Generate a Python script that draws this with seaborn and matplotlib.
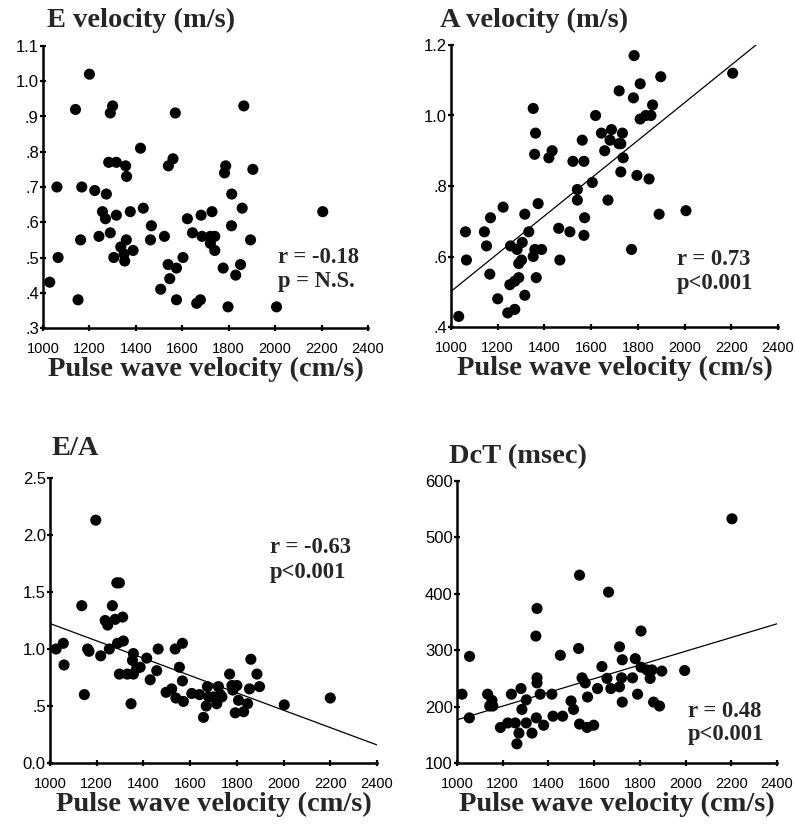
import numpy as np
import pandas as pd
import seaborn as sns
import matplotlib
matplotlib.use("Agg")
import matplotlib.pyplot as plt
from matplotlib import font_manager as fm

# values
pwv_e = [1200, 1140, 1300, 1290, 1570, 1865, 1420, 1560, 1540, 1283, 1316, 1356, 1360, 1787, 1782, 1904,
         1060, 1167, 1223, 1273, 1813, 1432, 1858, 2205, 1256, 1269, 1316, 1376, 1728, 1681, 1622, 1467,
         1812, 1644, 1290, 1241, 1162, 1463, 1359, 1523, 1685, 1721, 1740, 1721, 1740, 1894, 1335, 1388,
         1349, 1305, 1352, 1065, 1603, 1539, 1575, 1546, 1776, 1851, 1830, 1029, 1507, 1151, 1575, 1662,
         1678, 1797, 2006]
e_vel = [1.02, 0.92, 0.93, 0.91, 0.91, 0.93, 0.81, 0.78, 0.76, 0.77, 0.77, 0.76, 0.73, 0.76, 0.74, 0.75,
         0.70, 0.70, 0.69, 0.68, 0.68, 0.64, 0.64, 0.63, 0.63, 0.61, 0.62, 0.63, 0.63, 0.62, 0.61, 0.59,
         0.59, 0.57, 0.57, 0.56, 0.55, 0.55, 0.55, 0.56, 0.56, 0.56, 0.56, 0.54, 0.52, 0.55, 0.53, 0.52,
         0.51, 0.50, 0.49, 0.50, 0.50, 0.48, 0.47, 0.44, 0.47, 0.48, 0.45, 0.43, 0.41, 0.38, 0.38, 0.37,
         0.38, 0.36, 0.36]

pwv_a = [1033, 1062, 1066, 1143, 1152, 1169, 1166, 1200, 1223, 1255, 1243, 1273, 1252, 1273, 1290, 1283,
         1305, 1290, 1302, 1316, 1316, 1333, 1352, 1359, 1388, 1365, 1373, 1352, 1362, 1358, 1419, 1433,
         1461, 1466, 1509, 1522, 1541, 1541, 1569, 1562, 1572, 1569, 1605, 1619, 1644, 1658, 1672, 1681,
         1687, 1719, 1727, 1734, 1737, 1727, 1720, 1773, 1784, 1781, 1796, 1810, 1810, 1834, 1856, 1863,
         1848, 1891, 1898, 2006, 2206]
a_vel = [0.43, 0.67, 0.59, 0.67, 0.63, 0.71, 0.55, 0.48, 0.74, 0.63, 0.44, 0.45, 0.52, 0.53, 0.54, 0.62,
         0.64, 0.58, 0.59, 0.49, 0.72, 0.67, 0.60, 0.62, 0.62, 0.54, 0.75, 1.02, 0.95, 0.89, 0.88, 0.90,
         0.68, 0.59, 0.67, 0.87, 0.79, 0.76, 0.87, 0.93, 0.71, 0.66, 0.81, 1.00, 0.95, 0.90, 0.76, 0.93,
         0.96, 0.92, 0.92, 0.95, 0.88, 0.84, 1.07, 0.62, 1.17, 1.05, 0.83, 1.09, 0.99, 1.00, 1.00, 1.03,
         0.82, 0.72, 1.11, 0.73, 1.12]

pwv_ea = [1026, 1057, 1060, 1136, 1147, 1161, 1167, 1196, 1217, 1236, 1247, 1267, 1254, 1279, 1286, 1297,
          1311, 1289, 1314, 1297, 1331, 1357, 1357, 1353, 1371, 1386, 1347, 1414, 1429, 1463, 1457, 1497,
          1521, 1539, 1536, 1567, 1554, 1567, 1571, 1607, 1640, 1657, 1669, 1674, 1679, 1700, 1714, 1721,
          1729, 1736, 1769, 1779, 1783, 1800, 1793, 1807, 1829, 1846, 1854, 1860, 1886, 1897, 2003, 2200]
ea = [1.00, 1.05, 0.86, 1.38, 0.60, 1.00, 0.98, 2.13, 0.94, 1.25, 1.21, 1.38, 1.00, 1.26, 1.58, 1.58,
      1.28, 1.05, 1.07, 0.78, 0.78, 0.96, 0.78, 0.90, 0.83, 0.84, 0.52, 0.92, 0.73, 1.00, 0.81, 0.62,
      0.65, 0.57, 1.00, 1.05, 0.84, 0.72, 0.54, 0.61, 0.60, 0.40, 0.50, 0.67, 0.58, 0.58, 0.52, 0.67,
      0.60, 0.58, 0.78, 0.68, 0.64, 0.68, 0.44, 0.55, 0.45, 0.52, 0.65, 0.91, 0.78, 0.67, 0.51, 0.57]

pwv_dct = [1022, 1054, 1055, 1134, 1153, 1143, 1157, 1190, 1222, 1238, 1255, 1262, 1271, 1280, 1284, 1303,
           1303, 1328, 1345, 1350, 1350, 1350, 1347, 1364, 1379, 1415, 1420, 1452, 1462, 1499, 1510, 1532,
           1536, 1536, 1547, 1561, 1569, 1571, 1598, 1615, 1634, 1656, 1663, 1673, 1711, 1711, 1723, 1723,
           1720, 1768, 1780, 1790, 1805, 1805, 1831, 1853, 1845, 1860, 1886, 1896, 1996, 2203]
dct = [222, 180, 289, 222, 211, 201, 201, 163, 171, 222, 171, 134, 153, 232, 195, 212,
       171, 153, 325, 374, 251, 242, 180, 222, 167, 222, 183, 291, 183, 210, 195, 303,
       433, 169, 251, 242, 163, 217, 167, 232, 271, 250, 403, 232, 235, 306, 208, 283,
       251, 251, 285, 222, 334, 270, 265, 265, 250, 208, 201, 263, 264, 533]

x_ticks = [1000, 1200, 1400, 1600, 1800, 2000, 2200, 2400]
e_ticks = [0.3, 0.4, 0.5, 0.6, 0.7, 0.8, 0.9, 1.0, 1.1]
e_labels = [".3", ".4", ".5", ".6", ".7", ".8", ".9", "1.0", "1.1"]
a_ticks = [0.4, 0.6, 0.8, 1.0, 1.2]
a_labels = [".4", ".6", ".8", "1.0", "1.2"]
ea_ticks = [0.0, 0.5, 1.0, 1.5, 2.0, 2.5]
ea_labels = ["0.0", ".5", "1.0", "1.5", "2.0", "2.5"]
dct_ticks = [100, 200, 300, 400, 500, 600]
dct_labels = ["100", "200", "300", "400", "500", "600"]

sns.set_style("ticks")
serif = ["Liberation Serif", "DejaVu Serif"]
names = {f.name for f in fm.fontManager.ttflist}
if "Liberation Sans Narrow" in names:
    tick_font, xt_size, yt_size = "Liberation Sans Narrow", 12, 13
else:
    tick_font, xt_size, yt_size = "Liberation Sans", 10.5, 12

W, H = 795, 830
fig = plt.figure(figsize=(W / 100, H / 100), dpi=100)


def px(x, y):
    return x / W, 1 - y / H


def box(l, t, r, b):
    return [l / W, 1 - b / H, (r - l) / W, (b - t) / H]


panels = [
    dict(x=pwv_e, y=e_vel, ylim=(0.3, 1.1), yt=e_ticks, yl=e_labels, fit=False,
         pos=box(43, 46, 368, 328), title="E velocity (m/s)", tpos=(47, 27),
         stats=[("r = -0.18", (278, 263)), ("p = N.S.", (278, 287))]),
    dict(x=pwv_a, y=a_vel, ylim=(0.4, 1.2), yt=a_ticks, yl=a_labels, fit=True,
         pos=box(451, 45, 778, 327), title="A velocity (m/s)", tpos=(440, 27),
         stats=[("r = 0.73", (677, 265)), ("p<0.001", (677, 289))]),
    dict(x=pwv_ea, y=ea, ylim=(0.0, 2.5), yt=ea_ticks, yl=ea_labels, fit=True,
         pos=box(50, 478, 377, 763), title="E/A", tpos=(52, 455),
         stats=[("r = -0.63", (270, 553)), ("p<0.001", (270, 578))]),
    dict(x=pwv_dct, y=dct, ylim=(100, 600), yt=dct_ticks, yl=dct_labels, fit=True,
         pos=box(457, 481, 777, 763), title="DcT (msec)", tpos=(449, 463),
         stats=[("r = 0.48", (688, 717)), ("p<0.001", (688, 740))]),
]

for p in panels:
    ax = fig.add_axes(p["pos"])
    df = pd.DataFrame({"pwv": p["x"], "val": p["y"]})
    ax.set_xlim(1000, 2400)
    ax.set_ylim(*p["ylim"])
    sns.scatterplot(data=df, x="pwv", y="val", ax=ax, color="black", s=64,
                    edgecolor="none", zorder=3)
    if p["fit"]:
        sns.regplot(data=df, x="pwv", y="val", ax=ax, scatter=False, ci=None,
                    truncate=False, line_kws=dict(color="black", lw=0.9))
    ax.set_xlim(1000, 2400)
    ax.set_ylim(*p["ylim"])
    ax.set_xticks(x_ticks)
    ax.set_xticklabels([str(t) for t in x_ticks], fontfamily=tick_font, fontsize=xt_size)
    ax.set_yticks(p["yt"])
    ax.set_yticklabels(p["yl"], fontfamily=tick_font, fontsize=yt_size)
    ax.tick_params(axis="x", direction="inout", length=4, width=1.6, pad=8, colors="black")
    ax.tick_params(axis="y", direction="inout", length=4, width=1.6, pad=1, colors="black")
    sns.despine(ax=ax)
    for s in ("left", "bottom"):
        ax.spines[s].set_linewidth(1.8)
        ax.spines[s].set_color("black")
    ax.set_ylabel("")
    ax.set_xlabel("Pulse wave velocity (cm/s)", fontfamily=serif, fontweight="bold",
                  fontsize=20.5, labelpad=1)
    fig.text(*px(*p["tpos"]), p["title"], fontfamily=serif, fontweight="bold",
             fontsize=20.5, va="baseline", ha="left")
    for txt, (tx, ty) in p["stats"]:
        fig.text(*px(tx, ty), txt, fontfamily=serif, fontweight="bold",
                 fontsize=16.3, va="baseline", ha="left")

fig.savefig("out.png", dpi=100, facecolor="white")
